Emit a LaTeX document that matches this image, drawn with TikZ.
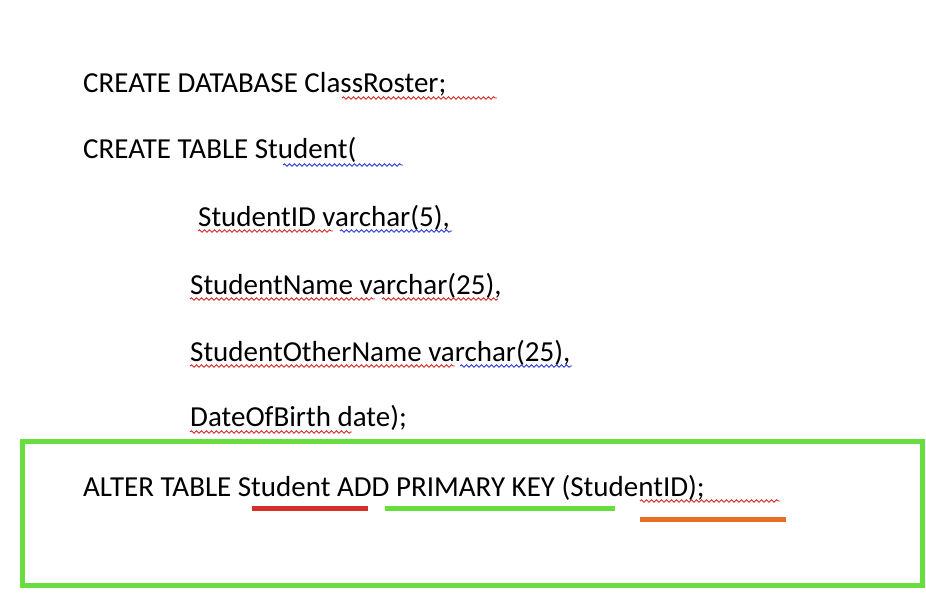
\documentclass[tikz,border=0pt]{standalone}
\usepackage{fontspec}
\setmainfont{Carlito}
\usetikzlibrary{decorations.pathmorphing}
\definecolor{boxgreen}{RGB}{103,222,62}
\definecolor{markred}{RGB}{214,46,40}
\definecolor{markorange}{RGB}{232,110,40}
\definecolor{wavered}{RGB}{220,40,40}
\definecolor{waveblue}{RGB}{40,60,220}
\tikzset{
  sqltext/.style={anchor=base west,inner sep=0pt,font=\fontsize{29}{34}\selectfont},
  wavy/.style={decorate,decoration={snake,amplitude=1.2,segment length=5},line width=0.9},
  keyline/.style={line width=5}
}
\begin{document}
\begin{tikzpicture}[x=1pt,y=1pt,yscale=-1]
    \useasboundingbox[fill=white] (0,0) rectangle (926,596);
    % Text Node
    \node [sqltext] (db) at (83,93) {CREATE DATABASE ClassRoster;};
    % Text Node
    \node [sqltext] (tbl) at (83,159) {CREATE TABLE Student(};
    % Text Node
    \node [sqltext] (c1) at (198,226) {StudentID varchar(5),};
    % Text Node
    \node [sqltext] (c2) at (190,294) {StudentName varchar(25),};
    % Text Node
    \node [sqltext] (c3) at (190,361) {StudentOtherName varchar(25),};
    % Text Node
    \node [sqltext] (c4) at (190,426) {DateOfBirth date);};
    % Text Node
    \node [sqltext] (alt) at (83,496) {ALTER TABLE Student ADD PRIMARY KEY (StudentID);};
    %Wavy underlines
    \draw [wavy,wavered] (342,98) -- (497,98);
    \draw [wavy,waveblue] (283,165) -- (403,165);
    \draw [wavy,wavered] (198,231) -- (333,231);
    \draw [wavy,waveblue] (340,231) -- (452,231);
    \draw [wavy,wavered] (190,299) -- (375,299);
    \draw [wavy,wavered] (382,299) -- (498,299);
    \draw [wavy,wavered] (190,366) -- (455,366);
    \draw [wavy,waveblue] (460,366) -- (572,366);
    \draw [wavy,wavered] (190,432) -- (352,432);
    \draw [wavy,wavered] (640,501) -- (780,501);
    %Shape: Rectangle
    \draw [boxgreen,line width=5] (22,441) rectangle (922,585);
    %Straight Lines
    \draw [keyline,markred] (252,508) -- (368,508);
    \draw [keyline,boxgreen] (385,508) -- (615,508);
    \draw [keyline,markorange] (640,519) -- (786,519);
\end{tikzpicture}
\end{document}
